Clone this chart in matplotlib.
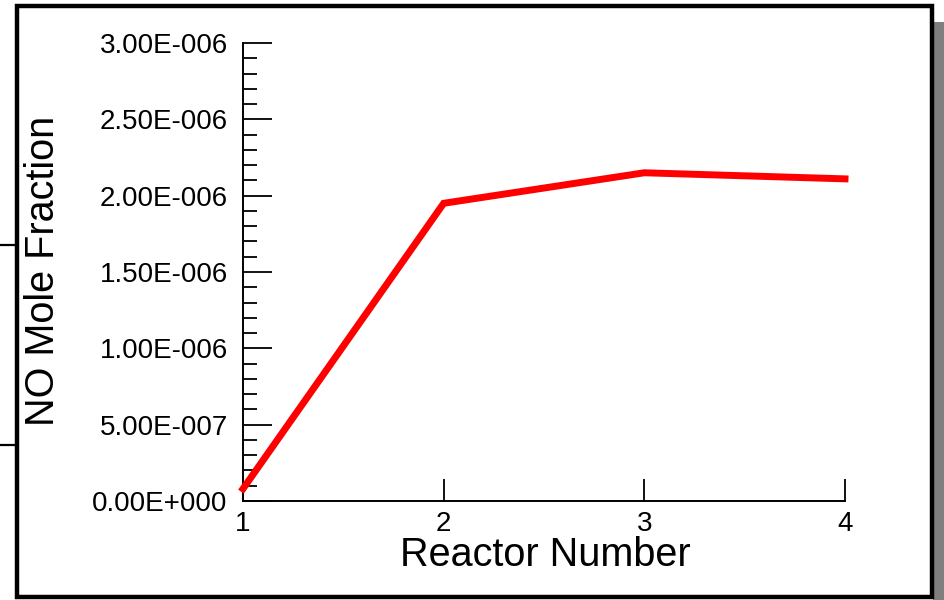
import numpy as np
import matplotlib
matplotlib.use("Agg")
import matplotlib.pyplot as plt
from matplotlib.patches import Rectangle
from matplotlib.lines import Line2D
from matplotlib.ticker import FuncFormatter, MultipleLocator

plt.rcParams["font.family"] = ["Liberation Sans", "DejaVu Sans"]

# ---- data ----
reactor = [1, 2, 3, 4]
no_frac = [0.08e-6, 1.95e-6, 2.15e-6, 2.11e-6]
x_ticks = [1, 2, 3, 4]
y_major = 0.5e-6
y_minor = 0.1e-6


def sci_fmt(v, pos=None):
    if v == 0:
        return "0.00E+000"
    e = int(np.floor(np.log10(abs(v))))
    m = v / 10 ** e
    return f"{m:.2f}E{'-' if e < 0 else '+'}{abs(e):03d}"


W, H = 945, 600
fig = plt.figure(figsize=(W / 100, H / 100), dpi=100)

# outer frame, its shadow and the stubs of something behind it
fig.patches.append(Rectangle((933 / W, 0), 12 / W, 1 - 22 / H, transform=fig.transFigure,
                             fc="#7f7f7f", ec="none", zorder=0))
fig.patches.append(Rectangle((17 / W, 3 / H), 915 / W, 1 - 9 / H, transform=fig.transFigure,
                             fc="white", ec="black", lw=3.2, zorder=0))
for yy in (245, 445):
    fig.lines.append(Line2D([0, 17 / W], [1 - yy / H] * 2, transform=fig.transFigure,
                            color="black", lw=1.6))

ax = fig.add_axes([243 / W, 1 - 501 / H, (845 - 243) / W, (501 - 43) / H])
ax.set_zorder(5)
ax.set_facecolor("none")
ax.plot(reactor, no_frac, color="#ff0000", lw=5, solid_joinstyle="miter", clip_on=False, zorder=3)

ax.set_xlim(1, 4)
ax.set_ylim(0, 3e-6)
ax.set_xticks(x_ticks)
ax.yaxis.set_major_locator(MultipleLocator(y_major))
ax.yaxis.set_minor_locator(MultipleLocator(y_minor))
ax.yaxis.set_major_formatter(FuncFormatter(sci_fmt))

for s in ("top", "right"):
    ax.spines[s].set_visible(False)
for s in ("left", "bottom"):
    ax.spines[s].set_linewidth(1.4)

ax.tick_params(axis="y", which="major", direction="in", length=21, width=1.3,
               labelsize=20, pad=11)
ax.tick_params(axis="y", which="minor", direction="in", length=10, width=1.3)
ax.tick_params(axis="x", which="major", direction="in", length=16, width=1.3,
               labelsize=20, pad=7)

ax.set_xlabel("Reactor Number", fontsize=28.5)
ax.set_ylabel("NO Mole Fraction", fontsize=28.5)
# label centres (pixels)
ax.xaxis.set_label_coords((545 - 243) / (845 - 243), -(555 - 501) / (501 - 43), transform=ax.transAxes)
ax.yaxis.set_label_coords(-(243 - 43) / (845 - 243), (501 - 271) / (501 - 43), transform=ax.transAxes)
ax.xaxis.label.set_va("center")
ax.yaxis.label.set_va("center")

fig.savefig("out.png", dpi=100, facecolor="white")
